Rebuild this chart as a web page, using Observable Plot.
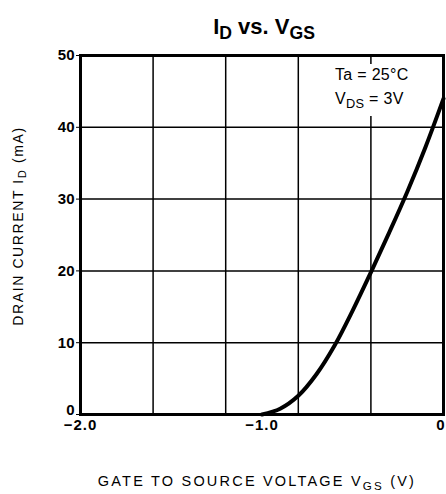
<!DOCTYPE html>
<html>
<head>
<meta charset="utf-8">
<script src="https://cdn.jsdelivr.net/npm/d3@7"></script>
<script src="https://cdn.jsdelivr.net/npm/@observablehq/plot@0.6"></script>
<style>
  html, body { margin: 0; padding: 0; background: #fff; }
  svg { display: block; }
</style>
</head>
<body>
<div id="chart"></div>
<script>
// Data
const vgs = [-1.0, -0.9, -0.8, -0.7, -0.6, -0.5, -0.4, -0.3, -0.2, -0.1, 0.0];
const idmA = [0, 0.8, 2.6, 5.6, 9.6, 14.5, 19.8, 25.3, 31.0, 37.2, 44];
const xGrid = [-2.0, -1.6, -1.2, -0.8, -0.4, 0];
const yGrid = [0, 10, 20, 30, 40, 50];
const xTickLabels = [-2.0, -1.0, 0];
const yTickLabels = [0, 10, 20, 30, 40, 50];

const curveData = vgs.map((v, i) => ({v, i: idmA[i]}));

const font = "'Liberation Sans', Arial, Helvetica, sans-serif";

const chart = Plot.plot({
  width: 446,
  height: 494,
  marginLeft: 80,
  marginRight: 3,
  marginTop: 55,
  marginBottom: 80,
  style: {fontFamily: font, background: "#fff", color: "#000"},
  x: {domain: [-2, 0], label: null},
  y: {domain: [0, 50], label: null},
  marks: [
    Plot.ruleX(xGrid, {stroke: "#000", strokeWidth: 1.5}),
    Plot.ruleY(yGrid, {stroke: "#000", strokeWidth: 1.5}),
    Plot.frame({stroke: "#000", strokeWidth: 3}),
    Plot.axisX({
      ticks: xTickLabels,
      tickSize: 0,
      tickPadding: 5,
      tickFormat: d => d === 0 ? "0" : "\u2212" + Math.abs(d).toFixed(1),
      fontSize: 15,
      fontWeight: "bold",
      label: null
    }),
    Plot.axisY({
      ticks: yTickLabels,
      tickSize: 4,
      tickPadding: 2,
      fontSize: 15,
      fontWeight: "bold",
      label: null
    }),
    Plot.line(curveData, {x: "v", y: "i", curve: "catmull-rom", stroke: "#000", strokeWidth: 4})
  ]
});

document.getElementById("chart").appendChild(chart);

const svg = d3.select(chart);

// Nudge the corner tick labels as in the reference
svg.selectAll("[aria-label='x-axis tick label'] text").each(function() {
  const t = d3.select(this);
  if (t.text() === "0") t.attr("text-anchor", "end").attr("dx", 2);
  t.attr("letter-spacing", 1);
});
svg.selectAll("[aria-label='y-axis tick label'] text").each(function() {
  const t = d3.select(this);
  if (t.text() === "0") t.attr("dy", "-0.3em");
});

function richText(g, parts) {
  parts.forEach(([t, sub]) => {
    const ts = g.append("tspan").text(t);
    if (sub) ts.attr("baseline-shift", "-30%").attr("font-size", "0.8em");
  });
}

// Title
const title = svg.append("text")
  .attr("x", 264).attr("y", 34)
  .attr("text-anchor", "middle")
  .attr("font-family", font)
  .attr("font-weight", "bold")
  .attr("font-size", 22)
  .attr("fill", "#000");
richText(title, [["I", false], ["D", true], [" vs. V", false], ["GS", true]]);

// Annotation box (white background hides the grid behind the text)
svg.append("rect")
  .attr("x", 333).attr("y", 64).attr("width", 86).attr("height", 52)
  .attr("fill", "#fff");
const ann1 = svg.append("text")
  .attr("x", 335).attr("y", 80)
  .attr("text-anchor", "start")
  .attr("font-family", font).attr("font-size", 16).attr("letter-spacing", 0.3).attr("fill", "#000");
richText(ann1, [["Ta = 25°C", false]]);
const ann2 = svg.append("text")
  .attr("x", 335).attr("y", 104)
  .attr("text-anchor", "start")
  .attr("font-family", font).attr("font-size", 16).attr("letter-spacing", 0.3).attr("fill", "#000");
richText(ann2, [["V", false], ["DS", true], [" = 3V", false]]);

// X label
const xl = svg.append("text")
  .attr("x", 257).attr("y", 486)
  .attr("text-anchor", "middle")
  .attr("font-family", font).attr("font-size", 14.5).attr("letter-spacing", 2.2)
  .attr("fill", "#000");
richText(xl, [["GATE TO SOURCE VOLTAGE V", false], ["GS", true], [" (V)", false]]);

// Y label
const yl = svg.append("text")
  .attr("transform", "translate(23,226) rotate(-90)")
  .attr("text-anchor", "middle")
  .attr("font-family", font).attr("font-size", 14).attr("letter-spacing", 1.6)
  .attr("fill", "#000");
richText(yl, [["DRAIN CURRENT I", false], ["D", true], [" (mA)", false]]);
</script>
</body>
</html>
